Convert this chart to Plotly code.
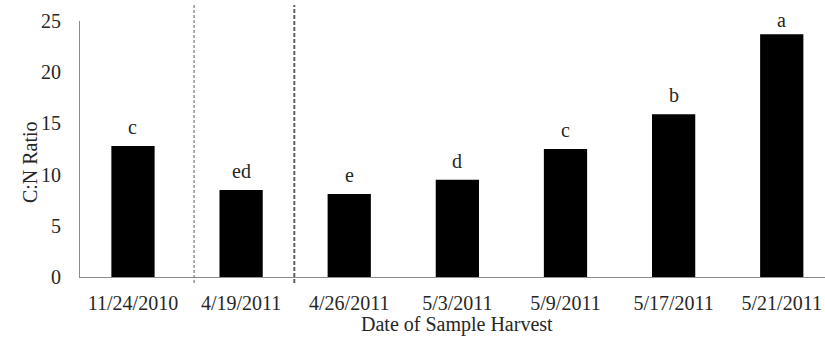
import plotly.graph_objects as go

# ---- data ----
dates = ["11/24/2010", "4/19/2011", "4/26/2011", "5/3/2011", "5/9/2011", "5/17/2011", "5/21/2011"]
cn_ratio = [12.8, 8.5, 8.1, 9.5, 12.5, 15.9, 23.7]
letters = ["c", "ed", "e", "d", "c", "b", "a"]
y_ticks = [0, 5, 10, 15, 20, 25]
separators = [0.565, 1.492]  # category-axis positions of the dashed separators

FONT = "Liberation Serif, Times New Roman, serif"
TXT = "#262626"
AX = "#8c8c8c"

fig = go.Figure()
fig.add_trace(go.Bar(
    x=list(range(len(dates))), y=cn_ratio, width=0.4,
    marker=dict(color="black", line=dict(color="black", width=0)),
    showlegend=False, hoverinfo="skip",
))

annotations = []
for i, (v, t) in enumerate(zip(cn_ratio, letters)):
    annotations.append(dict(
        x=i, y=v, xref="x", yref="y", text=t, showarrow=False,
        yanchor="bottom", yshift=6 if t != "a" else 1,
        font=dict(family=FONT, size=20, color=TXT),
    ))
annotations.append(dict(
    x=3, y=-0.185, xref="x", yref="paper", text="Date of Sample Harvest",
    showarrow=False, xanchor="center", yanchor="middle",
    font=dict(family=FONT, size=20, color=TXT),
))
annotations.append(dict(
    x=30, y=0.449, xref="pixel" if False else "paper", yref="paper",
    text="C:N Ratio", showarrow=False, textangle=-90,
    xanchor="center", yanchor="middle",
    font=dict(family=FONT, size=20, color=TXT),
))
# fix the y title x position in paper coords (plot width = 825-80)
annotations[-1]["x"] = (30 - 80) / (825 - 80)

shapes = []
for k, s in enumerate(separators):
    shapes.append(dict(
        type="line", xref="x", yref="paper", x0=s, x1=s, y0=-0.023, y1=1.0625,
        line=dict(color="#7a7a7a" if k == 0 else "#5f5f5f", width=1.2 if k == 0 else 2,
                  dash="3px,2px" if k == 0 else "4px,2px"),
        layer="above",
    ))

fig.update_layout(
    width=825, height=341,
    margin=dict(l=80, r=0, t=21, b=64),
    paper_bgcolor="white", plot_bgcolor="white",
    font=dict(family=FONT, size=20, color=TXT),
    annotations=annotations, shapes=shapes,
    xaxis=dict(
        range=[-0.49, 6.40], tickmode="array",
        tickvals=list(range(len(dates))), ticktext=dates,
        showline=True, linecolor=AX, linewidth=1,
        showgrid=False, zeroline=False, ticks="", ticklabelstandoff=8,
        tickfont=dict(family=FONT, size=20, color=TXT),
    ),
    yaxis=dict(
        range=[0, 25], tickmode="array", tickvals=y_ticks,
        showline=True, linecolor=AX, linewidth=1,
        showgrid=False, zeroline=False, ticks="", ticklabelstandoff=14,
        tickfont=dict(family=FONT, size=20, color=TXT),
    ),
)

fig.write_html("out.html")
